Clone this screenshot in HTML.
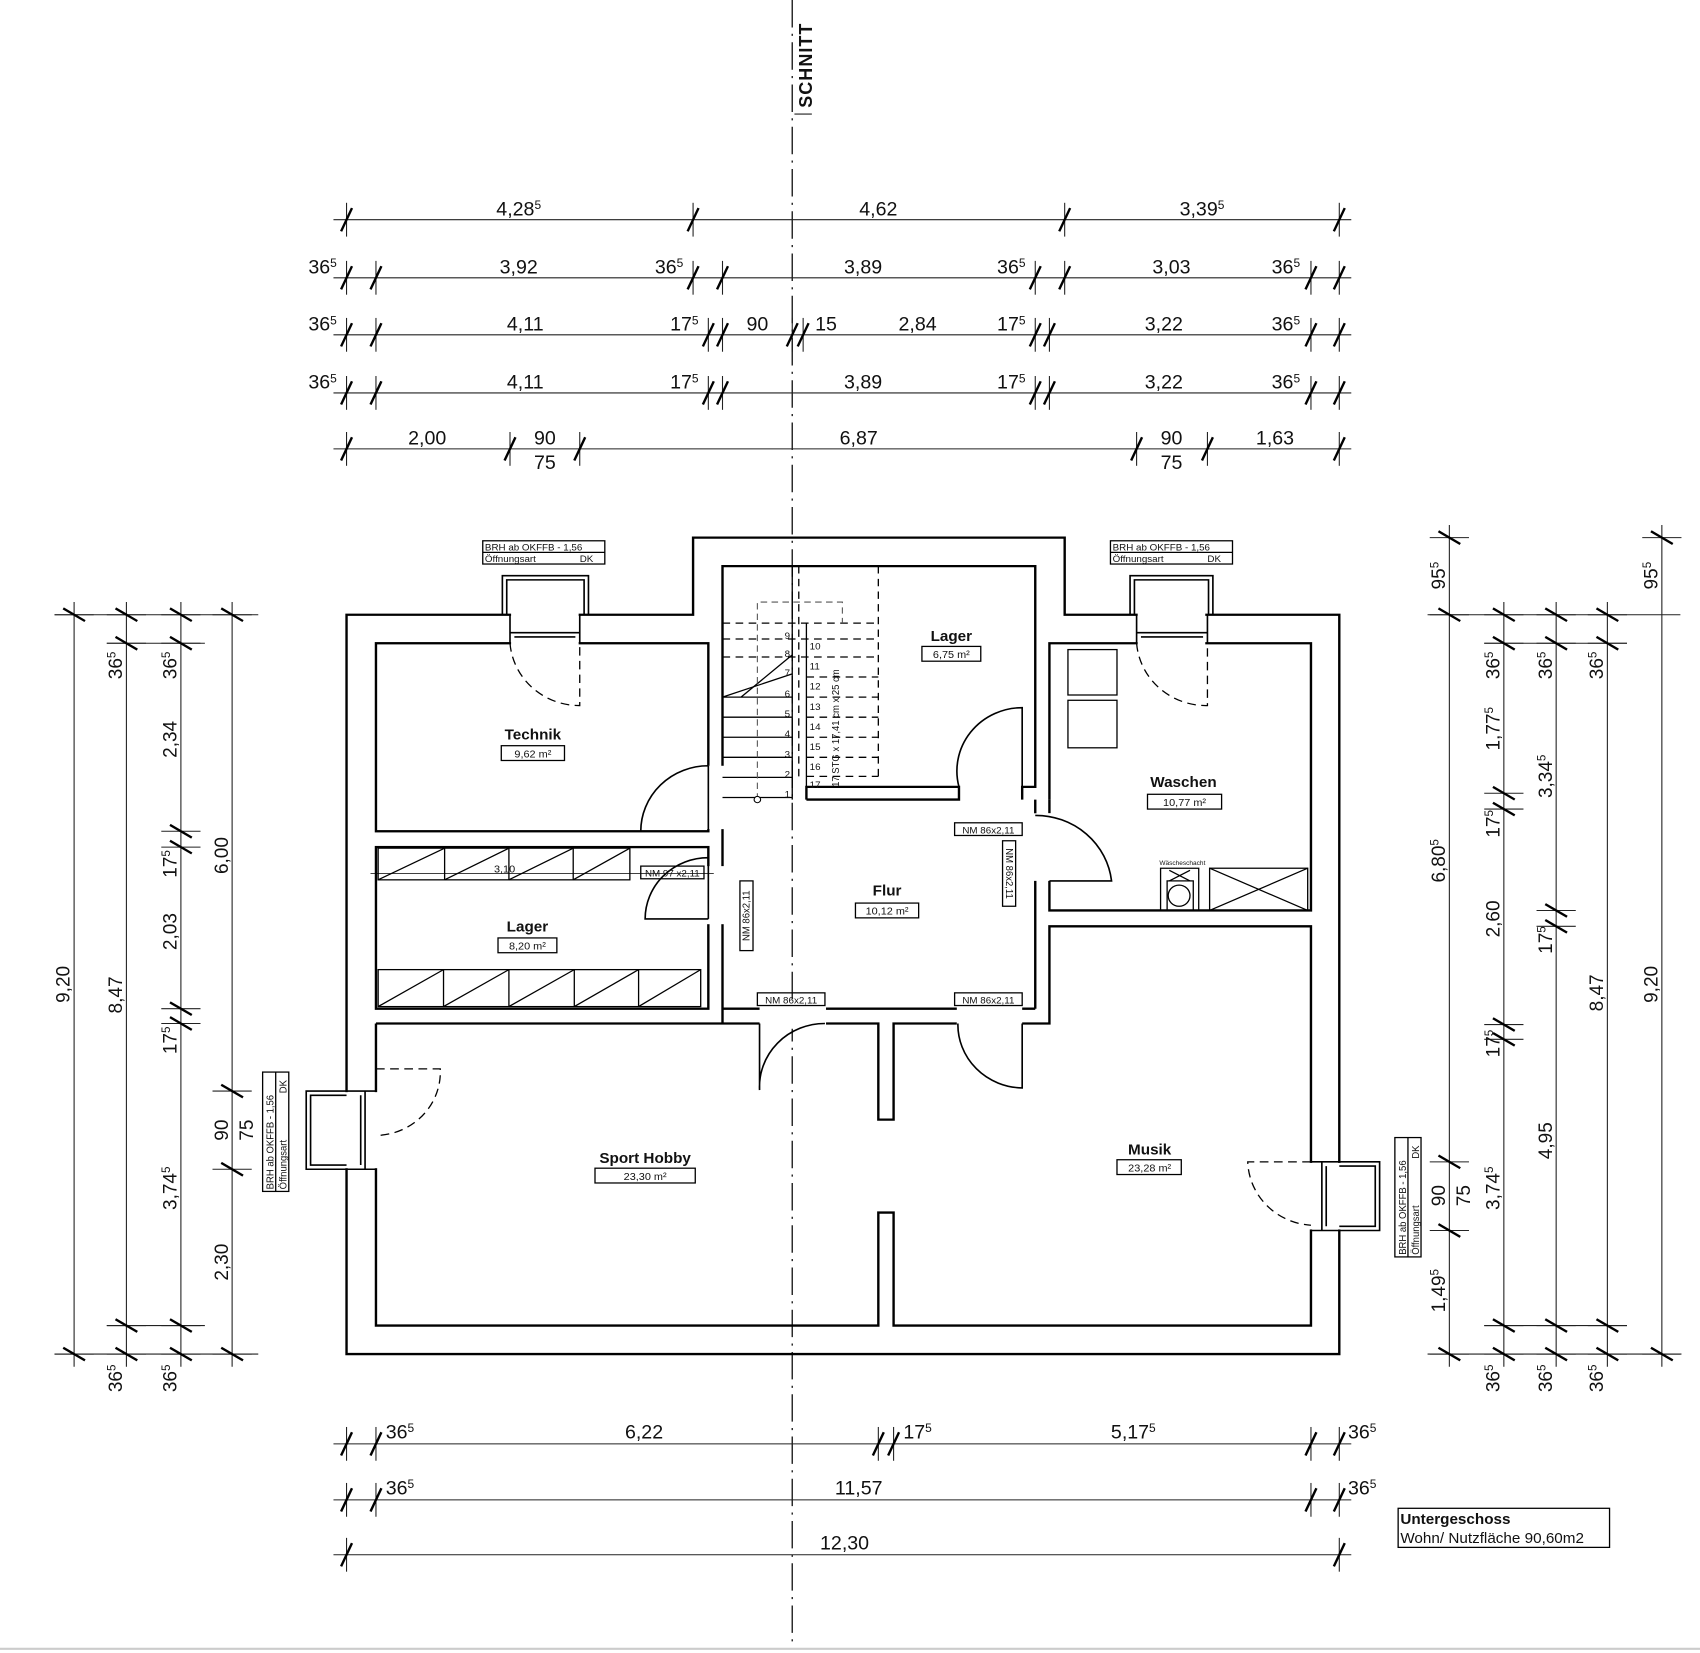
<!DOCTYPE html>
<html><head><meta charset="utf-8"><style>
html,body{margin:0;padding:0;background:#fff;}
svg{display:block;}
text{font-family:"Liberation Sans",sans-serif;fill:#111;}
.d{font-size:18px;}
.s{font-size:10px;}
.r{font-size:14px;font-weight:bold;}
</style></head><body>
<svg width="1700" height="1653" viewBox="0 0 1560 1565" preserveAspectRatio="none" xmlns="http://www.w3.org/2000/svg">
<defs>
<g id="h"><line x1="0" y1="-16" x2="0" y2="16" stroke="#222" stroke-width="1"/><line x1="-5" y1="11" x2="5" y2="-11" stroke="#000" stroke-width="2.2"/></g>
<g id="v"><line x1="-18" y1="0" x2="18" y2="0" stroke="#222" stroke-width="1"/><line x1="-10" y1="-6" x2="10" y2="6" stroke="#000" stroke-width="2.2"/></g>
</defs>
<rect width="1560" height="1565" fill="#fff"/>
<line x1="0" y1="1561" x2="1560" y2="1561" stroke="#ccc" stroke-width="2"/>
<line x1="727" y1="0" x2="727" y2="1560" stroke="#222" stroke-width="1.3" stroke-dasharray="26,6,2,6"/>
<line x1="729" y1="108" x2="745" y2="108" stroke="#222" stroke-width="1"/>
<text transform="translate(745,102) rotate(-90)" style="font-size:17px;font-weight:bold;letter-spacing:1px">SCHNITT</text>

<g stroke="#222" stroke-width="1">
<line x1="306" y1="208" x2="1240" y2="208"/><line x1="306" y1="263" x2="1240" y2="263"/><line x1="306" y1="317" x2="1240" y2="317"/><line x1="306" y1="372" x2="1240" y2="372"/><line x1="306" y1="425" x2="1240" y2="425"/>
</g>
<use href="#h" x="318" y="208"/><use href="#h" x="636" y="208"/><use href="#h" x="977" y="208"/><use href="#h" x="1229" y="208"/>
<use href="#h" x="318" y="263"/><use href="#h" x="345" y="263"/><use href="#h" x="636" y="263"/><use href="#h" x="663" y="263"/><use href="#h" x="950" y="263"/><use href="#h" x="977" y="263"/><use href="#h" x="1203" y="263"/><use href="#h" x="1229" y="263"/>
<use href="#h" x="318" y="317"/><use href="#h" x="345" y="317"/><use href="#h" x="650" y="317"/><use href="#h" x="663" y="317"/><use href="#h" x="727" y="317"/><use href="#h" x="737" y="317"/><use href="#h" x="950" y="317"/><use href="#h" x="963" y="317"/><use href="#h" x="1203" y="317"/><use href="#h" x="1229" y="317"/>
<use href="#h" x="318" y="372"/><use href="#h" x="345" y="372"/><use href="#h" x="650" y="372"/><use href="#h" x="663" y="372"/><use href="#h" x="950" y="372"/><use href="#h" x="963" y="372"/><use href="#h" x="1203" y="372"/><use href="#h" x="1229" y="372"/>
<use href="#h" x="318" y="425"/><use href="#h" x="468" y="425"/><use href="#h" x="532" y="425"/><use href="#h" x="1043" y="425"/><use href="#h" x="1108" y="425"/><use href="#h" x="1229" y="425"/>
<g class="d" text-anchor="middle">
<text x="476" y="204">4,28<tspan dy="-6" font-size="11">5</tspan></text><text x="806" y="204">4,62</text><text x="1103" y="204">3,39<tspan dy="-6" font-size="11">5</tspan></text>
<text x="296" y="259">36<tspan dy="-6" font-size="11">5</tspan></text><text x="476" y="259">3,92</text><text x="614" y="259">36<tspan dy="-6" font-size="11">5</tspan></text><text x="792" y="259">3,89</text><text x="928" y="259">36<tspan dy="-6" font-size="11">5</tspan></text><text x="1075" y="259">3,03</text><text x="1180" y="259">36<tspan dy="-6" font-size="11">5</tspan></text>
<text x="296" y="313">36<tspan dy="-6" font-size="11">5</tspan></text><text x="482" y="313">4,11</text><text x="628" y="313">17<tspan dy="-6" font-size="11">5</tspan></text><text x="695" y="313">90</text><text x="758" y="313">15</text><text x="842" y="313">2,84</text><text x="928" y="313">17<tspan dy="-6" font-size="11">5</tspan></text><text x="1068" y="313">3,22</text><text x="1180" y="313">36<tspan dy="-6" font-size="11">5</tspan></text>
<text x="296" y="368">36<tspan dy="-6" font-size="11">5</tspan></text><text x="482" y="368">4,11</text><text x="628" y="368">17<tspan dy="-6" font-size="11">5</tspan></text><text x="792" y="368">3,89</text><text x="928" y="368">17<tspan dy="-6" font-size="11">5</tspan></text><text x="1068" y="368">3,22</text><text x="1180" y="368">36<tspan dy="-6" font-size="11">5</tspan></text>
<text x="392" y="421">2,00</text><text x="500" y="421">90</text><text x="500" y="444">75</text><text x="788" y="421">6,87</text><text x="1075" y="421">90</text><text x="1075" y="444">75</text><text x="1170" y="421">1,63</text>
</g>

<g fill="none" stroke="#000" stroke-width="2.2">
<path d="M318,582 H636 V509 H977 V582 H1229 V1282 H318 Z"/>
<rect x="345" y="609" width="305" height="178"/>
<rect x="345" y="802" width="305" height="153"/>
<path d="M663,757 V536 H950 V745 H938 V757"/>
<path d="M740,757 V745 H880 V757 H740"/>
<path d="M963,757 V609 H1203 V862 H963 V834"/>
<path d="M950,757 V780 M950,834 V955 M963,757 V770"/>
<path d="M663,757 V955 H697 M758,955 H878 M938,955 H950 M663,969 V955"/>
<path d="M345,969 H697 M758,969 H806 V1060 H820 V969 H878 M938,969 H963 V877 H1203 V1255 H820 V1148 H806 V1255 H345 V969"/>
</g>
<g fill="#fff">
<rect x="469" y="575" width="62" height="40"/><rect x="1044" y="575" width="62" height="40"/>
<rect x="312" y="1034" width="40" height="72"/><rect x="1198" y="1101" width="38" height="63"/>
<rect x="645" y="725" width="22" height="60"/><rect x="645" y="820" width="22" height="55"/>
<rect x="944" y="770" width="24" height="62"/>
<rect x="698" y="950" width="59" height="24"/><rect x="879" y="950" width="58" height="24"/>
</g>
<g fill="none" stroke="#000" stroke-width="1.5">
<path d="M461,582 V545 H540 V582 M465,582 V549 H536 V582"/>
<path d="M1037,582 V545 H1113 V582 M1041,582 V549 H1109 V582"/>
<path d="M318,1033 H281 V1107 H318 M318,1037 H285 V1103 H318"/>
<path d="M1229,1100 H1266 V1165 H1229 M1229,1104 H1262 V1161 H1229"/>
<path d="M468,582 V609 M532,582 V609 M468,599 H532 M472,603 H528"/>
<path d="M1043,582 V609 M1108,582 V609 M1043,599 H1108 M1047,603 H1104"/>
<path d="M318,1033 H345 M318,1107 H345 M335,1033 V1107 M331,1037 V1103"/>
<path d="M1203,1100 H1229 M1203,1165 H1229 M1213,1100 V1165 M1217,1104 V1161"/>
<path d="M650,725 V787 M650,725 A62,62 0 0 0 588,787"/>
<path d="M650,812 V870 M650,812 A58,58 0 0 0 592,870 H650"/>
<path d="M938,745 V670 A60,60 0 0 0 880,745"/>
<path d="M950,772 A70,70 0 0 1 1020,834 H963"/>
<path d="M697,969 V1032 A60,60 0 0 1 757,969"/>
<path d="M938,969 V1030 A60,60 0 0 1 879,969"/>
</g>
<g fill="none" stroke="#000" stroke-width="1.2" stroke-dasharray="8,5">
<path d="M468,609 A64,64 0 0 0 532,668 V609"/>
<path d="M1043,609 A64,64 0 0 0 1108,668 V609"/>
<path d="M345,1012 H404 A60,60 0 0 1 345,1075"/>
<path d="M1203,1100 H1145 A62,62 0 0 0 1203,1160"/>
</g>
<g stroke="#000" stroke-width="1.2" fill="none">
<line x1="663" y1="755" x2="727" y2="755"/><line x1="663" y1="736" x2="727" y2="736"/><line x1="663" y1="717" x2="727" y2="717"/><line x1="663" y1="698" x2="727" y2="698"/><line x1="663" y1="679" x2="727" y2="679"/><line x1="663" y1="660" x2="727" y2="660"/>
<line x1="663" y1="660" x2="727" y2="638"/><line x1="680" y1="660" x2="727" y2="620"/>
<line x1="727" y1="536" x2="727" y2="757"/><line x1="740" y1="590" x2="740" y2="745"/>
</g>
<g stroke="#000" stroke-width="1.2" fill="none" stroke-dasharray="7,5">
<line x1="663" y1="590" x2="806" y2="590"/><line x1="663" y1="605" x2="806" y2="605"/><line x1="663" y1="622" x2="806" y2="622"/>
<line x1="740" y1="641" x2="806" y2="641"/><line x1="740" y1="660" x2="806" y2="660"/><line x1="740" y1="679" x2="806" y2="679"/><line x1="740" y1="698" x2="806" y2="698"/><line x1="740" y1="717" x2="806" y2="717"/><line x1="740" y1="735" x2="806" y2="735"/>
<line x1="806" y1="536" x2="806" y2="740"/><line x1="733" y1="536" x2="733" y2="740"/>
</g>
<g stroke="#555" stroke-width="1" fill="none" stroke-dasharray="6,4"><path d="M695,757 V570 H773 V590"/></g>
<circle cx="695" cy="757" r="3" fill="#fff" stroke="#000"/>
<g class="s" style="font-size:9px">
<text x="720" y="605">9</text><text x="720" y="622">8</text><text x="720" y="640">7</text><text x="720" y="660">6</text><text x="720" y="679">5</text><text x="720" y="698">4</text><text x="720" y="717">3</text><text x="720" y="736">2</text><text x="720" y="755">1</text>
<text x="743" y="615">10</text><text x="743" y="634">11</text><text x="743" y="653">12</text><text x="743" y="672">13</text><text x="743" y="691">14</text><text x="743" y="710">15</text><text x="743" y="729">16</text><text x="743" y="746">17</text>
<text transform="translate(770,745) rotate(-90)">17 STG x 17,41 cm x 25 cm</text>
</g>
<g stroke="#000" stroke-width="1.2" fill="none">
<rect x="347" y="803" width="231" height="30"/>
<line x1="408" y1="803" x2="408" y2="833"/><line x1="467" y1="803" x2="467" y2="833"/><line x1="526" y1="803" x2="526" y2="833"/>
<line x1="347" y1="833" x2="408" y2="803"/><line x1="408" y1="833" x2="467" y2="803"/><line x1="467" y1="833" x2="526" y2="803"/><line x1="526" y1="833" x2="578" y2="803"/>
<line x1="340" y1="827" x2="655" y2="827" stroke-width="0.8"/>
<rect x="347" y="918" width="296" height="35"/>
<line x1="407" y1="918" x2="407" y2="953"/><line x1="467" y1="918" x2="467" y2="953"/><line x1="527" y1="918" x2="527" y2="953"/><line x1="586" y1="918" x2="586" y2="953"/>
<line x1="347" y1="953" x2="407" y2="918"/><line x1="407" y1="953" x2="467" y2="918"/><line x1="467" y1="953" x2="527" y2="918"/><line x1="527" y1="953" x2="586" y2="918"/><line x1="586" y1="953" x2="643" y2="918"/>
<rect x="980" y="615" width="45" height="43"/><rect x="980" y="663" width="45" height="45"/>
<rect x="1110" y="822" width="90" height="40"/><line x1="1110" y1="822" x2="1200" y2="862"/><line x1="1200" y1="822" x2="1110" y2="862"/>
<path d="M1065,862 V822 H1100 V862"/><rect x="1071" y="834" width="24" height="28"/><circle cx="1082" cy="848" r="10"/>
<line x1="1073" y1="824" x2="1092" y2="834"/><line x1="1092" y1="824" x2="1073" y2="834"/>
<rect x="460" y="706" width="58" height="14"/><rect x="457" y="888" width="54" height="14"/>
<rect x="846" y="612" width="54" height="14"/><rect x="1053" y="752" width="68" height="14"/>
<rect x="785" y="855" width="58" height="14"/><rect x="546" y="1106" width="92" height="14"/><rect x="1025" y="1098" width="59" height="14"/>
<rect x="588" y="820" width="58" height="12"/><rect x="876" y="779" width="62" height="12"/><rect x="920" y="796" width="12" height="62"/><rect x="679" y="834" width="12" height="66"/>
<rect x="695" y="940" width="62" height="12"/><rect x="876" y="940" width="62" height="12"/>
<rect x="443" y="512" width="112" height="22"/><line x1="443" y1="523" x2="555" y2="523"/>
<rect x="1019" y="512" width="112" height="22"/><line x1="1019" y1="523" x2="1131" y2="523"/>
<rect x="241" y="1015" width="24" height="113"/><line x1="253" y1="1015" x2="253" y2="1128"/>
<rect x="1280" y="1077" width="24" height="113"/><line x1="1292" y1="1077" x2="1292" y2="1190"/>
<rect x="1283" y="1428" width="194" height="37"/>
</g>
<g class="r" text-anchor="middle">
<text x="489" y="700">Technik</text><text x="484" y="882">Lager</text><text x="873" y="607">Lager</text><text x="1086" y="745">Waschen</text><text x="814" y="848">Flur</text><text x="592" y="1101">Sport Hobby</text><text x="1055" y="1093">Musik</text>
</g>
<g class="s" text-anchor="middle">
<text x="489" y="717">9,62 m²</text><text x="484" y="899">8,20 m²</text><text x="873" y="623">6,75 m²</text><text x="1087" y="763">10,77 m²</text><text x="814" y="866">10,12 m²</text><text x="592" y="1117">23,30 m²</text><text x="1055" y="1109">23,28 m²</text>
<text x="463" y="826">3,10</text>
<text x="617" y="830" style="font-size:9px">NM 97 x2,11</text>
<text x="907" y="789" style="font-size:9px">NM 86x2,11</text>
<text transform="translate(923,827) rotate(90)" style="font-size:9px">NM 86x2,11</text>
<text transform="translate(688,867) rotate(-90)" style="font-size:9px">NM 86x2,11</text>
<text x="726" y="950" style="font-size:9px">NM 86x2,11</text><text x="907" y="950" style="font-size:9px">NM 86x2,11</text>
<text x="1085" y="819" style="font-size:6px">Wäscheschacht</text>
</g>
<g style="font-size:9px">
<text x="445" y="521">BRH ab OKFFB -  1,56</text><text x="445" y="532">Öffnungsart</text><text x="532" y="532">DK</text>
<text x="1021" y="521">BRH ab OKFFB -  1,56</text><text x="1021" y="532">Öffnungsart</text><text x="1108" y="532">DK</text>
<text transform="translate(251,1126) rotate(-90)">BRH ab OKFFB -  1,56</text><text transform="translate(263,1126) rotate(-90)">Öffnungsart</text><text transform="translate(263,1035) rotate(-90)">DK</text>
<text transform="translate(1290,1188) rotate(-90)">BRH ab OKFFB -  1,56</text><text transform="translate(1302,1188) rotate(-90)">Öffnungsart</text><text transform="translate(1302,1097) rotate(-90)">DK</text>
</g>

<g stroke="#222" stroke-width="1">
<line x1="68" y1="570" x2="68" y2="1294"/><line x1="116" y1="570" x2="116" y2="1294"/><line x1="166" y1="570" x2="166" y2="1294"/><line x1="213" y1="570" x2="213" y2="1294"/>
<line x1="50" y1="582" x2="237" y2="582"/><line x1="50" y1="1282" x2="237" y2="1282"/><line x1="98" y1="609" x2="188" y2="609"/><line x1="98" y1="1255" x2="188" y2="1255"/>
</g>
<use href="#v" x="68" y="582"/><use href="#v" x="68" y="1282"/>
<use href="#v" x="116" y="582"/><use href="#v" x="116" y="609"/><use href="#v" x="116" y="1255"/><use href="#v" x="116" y="1282"/>
<use href="#v" x="166" y="582"/><use href="#v" x="166" y="609"/><use href="#v" x="166" y="787"/><use href="#v" x="166" y="802"/><use href="#v" x="166" y="955"/><use href="#v" x="166" y="969"/><use href="#v" x="166" y="1255"/><use href="#v" x="166" y="1282"/>
<use href="#v" x="213" y="582"/><use href="#v" x="213" y="1033"/><use href="#v" x="213" y="1107"/><use href="#v" x="213" y="1282"/>
<g class="d" text-anchor="middle">
<text transform="translate(64,932) rotate(-90)">9,20</text>
<text transform="translate(112,630) rotate(-90)">36<tspan dy="-6" font-size="11">5</tspan></text>
<text transform="translate(112,942) rotate(-90)">8,47</text>
<text transform="translate(112,1305) rotate(-90)">36<tspan dy="-6" font-size="11">5</tspan></text>
<text transform="translate(162,630) rotate(-90)">36<tspan dy="-6" font-size="11">5</tspan></text>
<text transform="translate(162,700) rotate(-90)">2,34</text>
<text transform="translate(162,818) rotate(-90)">17<tspan dy="-6" font-size="11">5</tspan></text>
<text transform="translate(162,882) rotate(-90)">2,03</text>
<text transform="translate(162,985) rotate(-90)">17<tspan dy="-6" font-size="11">5</tspan></text>
<text transform="translate(162,1125) rotate(-90)">3,74<tspan dy="-6" font-size="11">5</tspan></text>
<text transform="translate(162,1305) rotate(-90)">36<tspan dy="-6" font-size="11">5</tspan></text>
<text transform="translate(209,810) rotate(-90)">6,00</text>
<text transform="translate(209,1070) rotate(-90)">90</text>
<text transform="translate(232,1070) rotate(-90)">75</text>
<text transform="translate(209,1195) rotate(-90)">2,30</text>
</g>

<g stroke="#222" stroke-width="1">
<line x1="1330" y1="497" x2="1330" y2="1294"/><line x1="1380" y1="570" x2="1380" y2="1294"/><line x1="1428" y1="570" x2="1428" y2="1294"/><line x1="1475" y1="570" x2="1475" y2="1294"/><line x1="1525" y1="497" x2="1525" y2="1294"/>
<line x1="1310" y1="582" x2="1542" y2="582"/><line x1="1310" y1="1282" x2="1542" y2="1282"/><line x1="1362" y1="609" x2="1493" y2="609"/><line x1="1362" y1="1255" x2="1493" y2="1255"/>
</g>
<use href="#v" x="1330" y="509"/><use href="#v" x="1330" y="582"/><use href="#v" x="1330" y="1100"/><use href="#v" x="1330" y="1165"/><use href="#v" x="1330" y="1282"/>
<use href="#v" x="1380" y="582"/><use href="#v" x="1380" y="609"/><use href="#v" x="1380" y="751"/><use href="#v" x="1380" y="766"/><use href="#v" x="1380" y="970"/><use href="#v" x="1380" y="984"/><use href="#v" x="1380" y="1255"/><use href="#v" x="1380" y="1282"/>
<use href="#v" x="1428" y="582"/><use href="#v" x="1428" y="609"/><use href="#v" x="1428" y="862"/><use href="#v" x="1428" y="877"/><use href="#v" x="1428" y="1255"/><use href="#v" x="1428" y="1282"/>
<use href="#v" x="1475" y="582"/><use href="#v" x="1475" y="609"/><use href="#v" x="1475" y="1255"/><use href="#v" x="1475" y="1282"/>
<use href="#v" x="1525" y="509"/><use href="#v" x="1525" y="1282"/>
<g class="d" text-anchor="middle">
<text transform="translate(1326,545) rotate(-90)">95<tspan dy="-6" font-size="11">5</tspan></text>
<text transform="translate(1326,815) rotate(-90)">6,80<tspan dy="-6" font-size="11">5</tspan></text>
<text transform="translate(1326,1132) rotate(-90)">90</text>
<text transform="translate(1349,1132) rotate(-90)">75</text>
<text transform="translate(1326,1222) rotate(-90)">1,49<tspan dy="-6" font-size="11">5</tspan></text>
<text transform="translate(1376,630) rotate(-90)">36<tspan dy="-6" font-size="11">5</tspan></text>
<text transform="translate(1376,690) rotate(-90)">1,77<tspan dy="-6" font-size="11">5</tspan></text>
<text transform="translate(1376,780) rotate(-90)">17<tspan dy="-6" font-size="11">5</tspan></text>
<text transform="translate(1376,870) rotate(-90)">2,60</text>
<text transform="translate(1376,988) rotate(-90)">17<tspan dy="-6" font-size="11">5</tspan></text>
<text transform="translate(1376,1125) rotate(-90)">3,74<tspan dy="-6" font-size="11">5</tspan></text>
<text transform="translate(1376,1305) rotate(-90)">36<tspan dy="-6" font-size="11">5</tspan></text>
<text transform="translate(1424,630) rotate(-90)">36<tspan dy="-6" font-size="11">5</tspan></text>
<text transform="translate(1424,735) rotate(-90)">3,34<tspan dy="-6" font-size="11">5</tspan></text>
<text transform="translate(1424,890) rotate(-90)">17<tspan dy="-6" font-size="11">5</tspan></text>
<text transform="translate(1424,1080) rotate(-90)">4,95</text>
<text transform="translate(1424,1305) rotate(-90)">36<tspan dy="-6" font-size="11">5</tspan></text>
<text transform="translate(1471,630) rotate(-90)">36<tspan dy="-6" font-size="11">5</tspan></text>
<text transform="translate(1471,940) rotate(-90)">8,47</text>
<text transform="translate(1471,1305) rotate(-90)">36<tspan dy="-6" font-size="11">5</tspan></text>
<text transform="translate(1521,545) rotate(-90)">95<tspan dy="-6" font-size="11">5</tspan></text>
<text transform="translate(1521,932) rotate(-90)">9,20</text>
</g>

<g stroke="#222" stroke-width="1">
<line x1="306" y1="1367" x2="1240" y2="1367"/><line x1="306" y1="1420" x2="1240" y2="1420"/><line x1="306" y1="1472" x2="1240" y2="1472"/>
</g>
<use href="#h" x="318" y="1367"/><use href="#h" x="345" y="1367"/><use href="#h" x="806" y="1367"/><use href="#h" x="820" y="1367"/><use href="#h" x="1203" y="1367"/><use href="#h" x="1229" y="1367"/>
<use href="#h" x="318" y="1420"/><use href="#h" x="345" y="1420"/><use href="#h" x="1203" y="1420"/><use href="#h" x="1229" y="1420"/>
<use href="#h" x="318" y="1472"/><use href="#h" x="1229" y="1472"/>
<g class="d" text-anchor="middle">
<text x="367" y="1362">36<tspan dy="-6" font-size="11">5</tspan></text><text x="591" y="1362">6,22</text><text x="842" y="1362">17<tspan dy="-6" font-size="11">5</tspan></text><text x="1040" y="1362">5,17<tspan dy="-6" font-size="11">5</tspan></text><text x="1250" y="1362">36<tspan dy="-6" font-size="11">5</tspan></text>
<text x="367" y="1415">36<tspan dy="-6" font-size="11">5</tspan></text><text x="788" y="1415">11,57</text><text x="1250" y="1415">36<tspan dy="-6" font-size="11">5</tspan></text>
<text x="775" y="1467">12,30</text>
</g>
<text x="1285" y="1443" style="font-size:14px;font-weight:bold">Untergeschoss</text>
<text x="1285" y="1461" style="font-size:14px">Wohn/ Nutzfläche 90,60m2</text>
</svg>
</body></html>
